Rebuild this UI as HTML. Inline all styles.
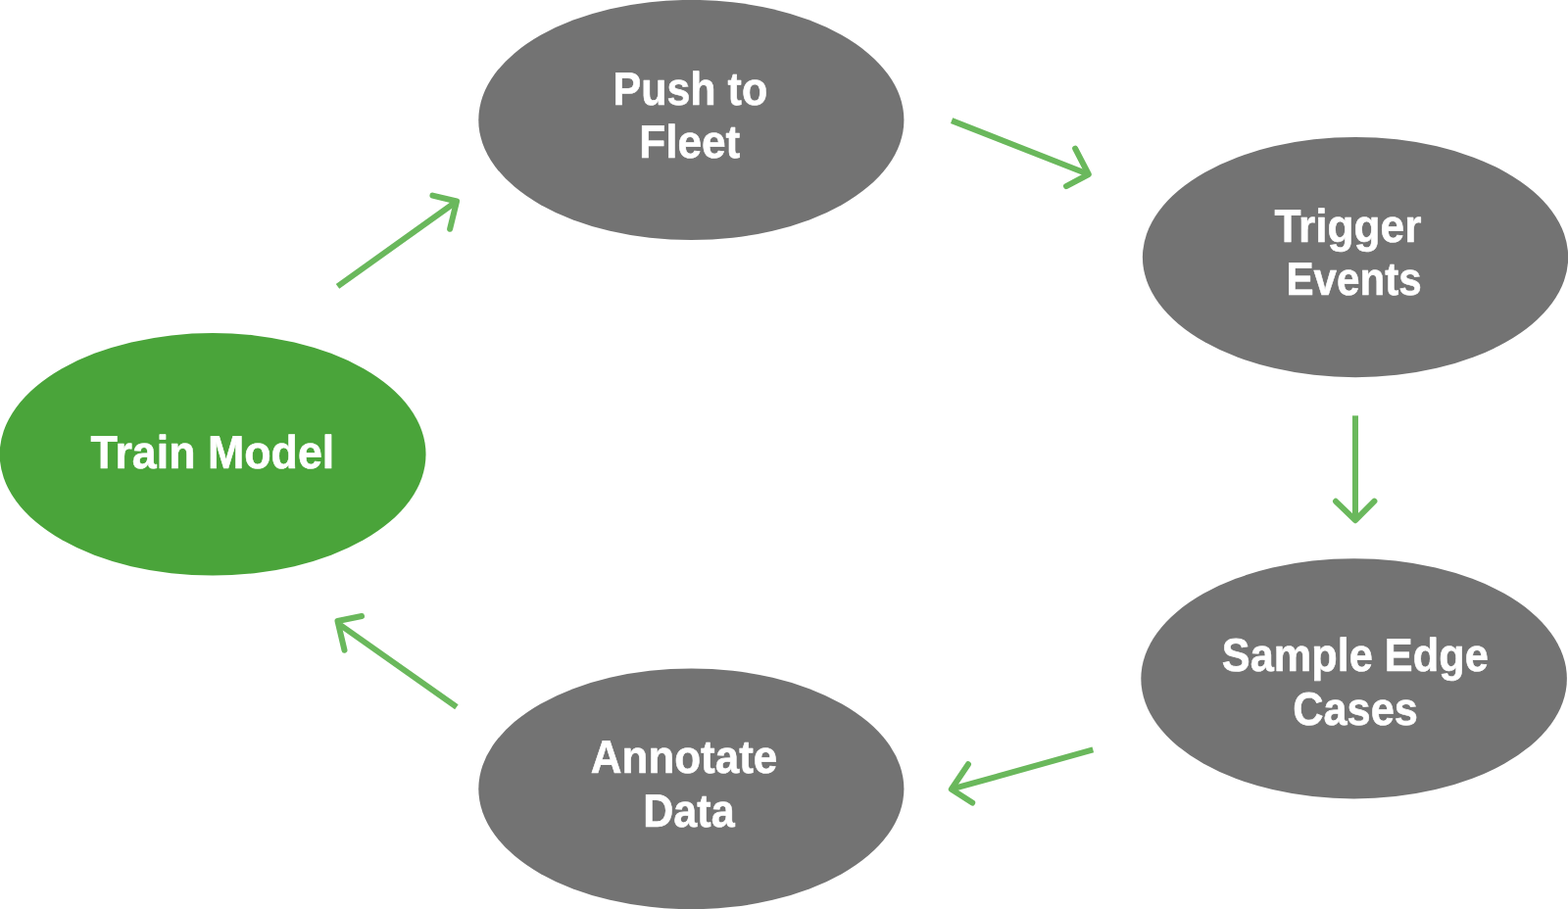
<!DOCTYPE html>
<html lang="en">
<head>
<meta charset="utf-8">
<title>Data engine loop</title>
<style>
  html, body { margin: 0; padding: 0; background: #ffffff; }
  body { width: 1600px; height: 928px; overflow: hidden; }
  svg { display: block; will-change: transform; }
  .node-label {
    font-family: "Liberation Sans", Arial, Helvetica, sans-serif;
    font-weight: 700;
    font-size: 47.45px;
    fill: #ffffff;
    stroke: #ffffff;
    stroke-width: 0.6;
    stroke-linejoin: round;
    text-rendering: geometricPrecision;
  }
  .gray { fill: #737373; }
  .green { fill: #4aa43a; }
  .arrow path { fill: none; stroke: #6ab85c; stroke-width: 6; }
  .arrow .shaft { stroke-linecap: butt; }
  .arrow .head { stroke-linecap: round; stroke-linejoin: round; }
</style>
</head>
<body>
<svg width="1600" height="928" viewBox="0 0 1600 928" role="img" aria-label="Data engine loop diagram">
  <rect x="0" y="0" width="1600" height="928" fill="#ffffff"/>

  <!-- Push to Fleet -->
  <g class="node">
    <ellipse class="gray" cx="705.35" cy="122.5" rx="217.05" ry="122.6"/>
    <text class="node-label" transform="translate(625.44 107) scale(0.9068 1)" x="0" y="0">Push to</text>
    <text class="node-label" transform="translate(652.17 161) scale(0.9314 1)" x="0" y="0">Fleet</text>
  </g>

  <!-- Trigger Events -->
  <g class="node">
    <ellipse class="gray" cx="1383.05" cy="262.6" rx="217.15" ry="122.6"/>
    <text class="node-label" transform="translate(1300.42 247) scale(0.9326 1)" x="0" y="0">Trigger</text>
    <text class="node-label" transform="translate(1312.44 301) scale(0.8885 1)" x="0" y="0">Events</text>
  </g>

  <!-- Train Model -->
  <g class="node">
    <ellipse class="green" cx="217.1" cy="463.8" rx="217.45" ry="123.8"/>
    <text class="node-label" transform="translate(92.60 478) scale(0.9432 1)" x="0" y="0">Train Model</text>
  </g>

  <!-- Sample Edge Cases -->
  <g class="node">
    <ellipse class="gray" cx="1381.6" cy="692.8" rx="217.3" ry="122.6"/>
    <text class="node-label" transform="translate(1246.87 685) scale(0.9125 1)" x="0" y="0">Sample Edge</text>
    <text class="node-label" transform="translate(1319.25 740) scale(0.9128 1)" x="0" y="0">Cases</text>
  </g>

  <!-- Annotate Data -->
  <g class="node">
    <ellipse class="gray" cx="705.35" cy="805.35" rx="217.05" ry="122.85"/>
    <text class="node-label" transform="translate(602.80 789) scale(0.9264 1)" x="0" y="0">Annotate</text>
    <text class="node-label" transform="translate(656.23 844) scale(0.9081 1)" x="0" y="0">Data</text>
  </g>

  <!-- arrow: Train Model to Push to Fleet -->
  <g class="arrow">
    <path class="shaft" d="M344.50 292.40 L466.05 205.50"/>
    <path class="head" d="M441.45 199.55 L466.05 205.50 L459.10 233.80"/>
  </g>

  <!-- arrow: Push to Fleet to Trigger Events -->
  <g class="arrow">
    <path class="shaft" d="M971.10 123.10 L1110.80 178.00"/>
    <path class="head" d="M1097.15 151.70 L1110.80 178.00 L1088.05 190.10"/>
  </g>

  <!-- arrow: Trigger Events to Sample Edge Cases -->
  <g class="arrow">
    <path class="shaft" d="M1383.00 424.35 L1383.00 531.20"/>
    <path class="head" d="M1363.00 511.80 L1383.00 531.20 L1402.40 511.70"/>
  </g>

  <!-- arrow: Sample Edge Cases to Annotate Data -->
  <g class="arrow">
    <path class="shaft" d="M1115.30 765.40 L970.80 805.70"/>
    <path class="head" d="M988.00 780.20 L970.80 805.70 L992.20 819.60"/>
  </g>

  <!-- arrow: Annotate Data to Train Model -->
  <g class="arrow">
    <path class="shaft" d="M465.90 721.80 L347.00 637.89"/>
    <path class="head" d="M369.05 629.00 L344.50 633.95 L351.50 663.80"/>
  </g>

</svg>
</body>
</html>
